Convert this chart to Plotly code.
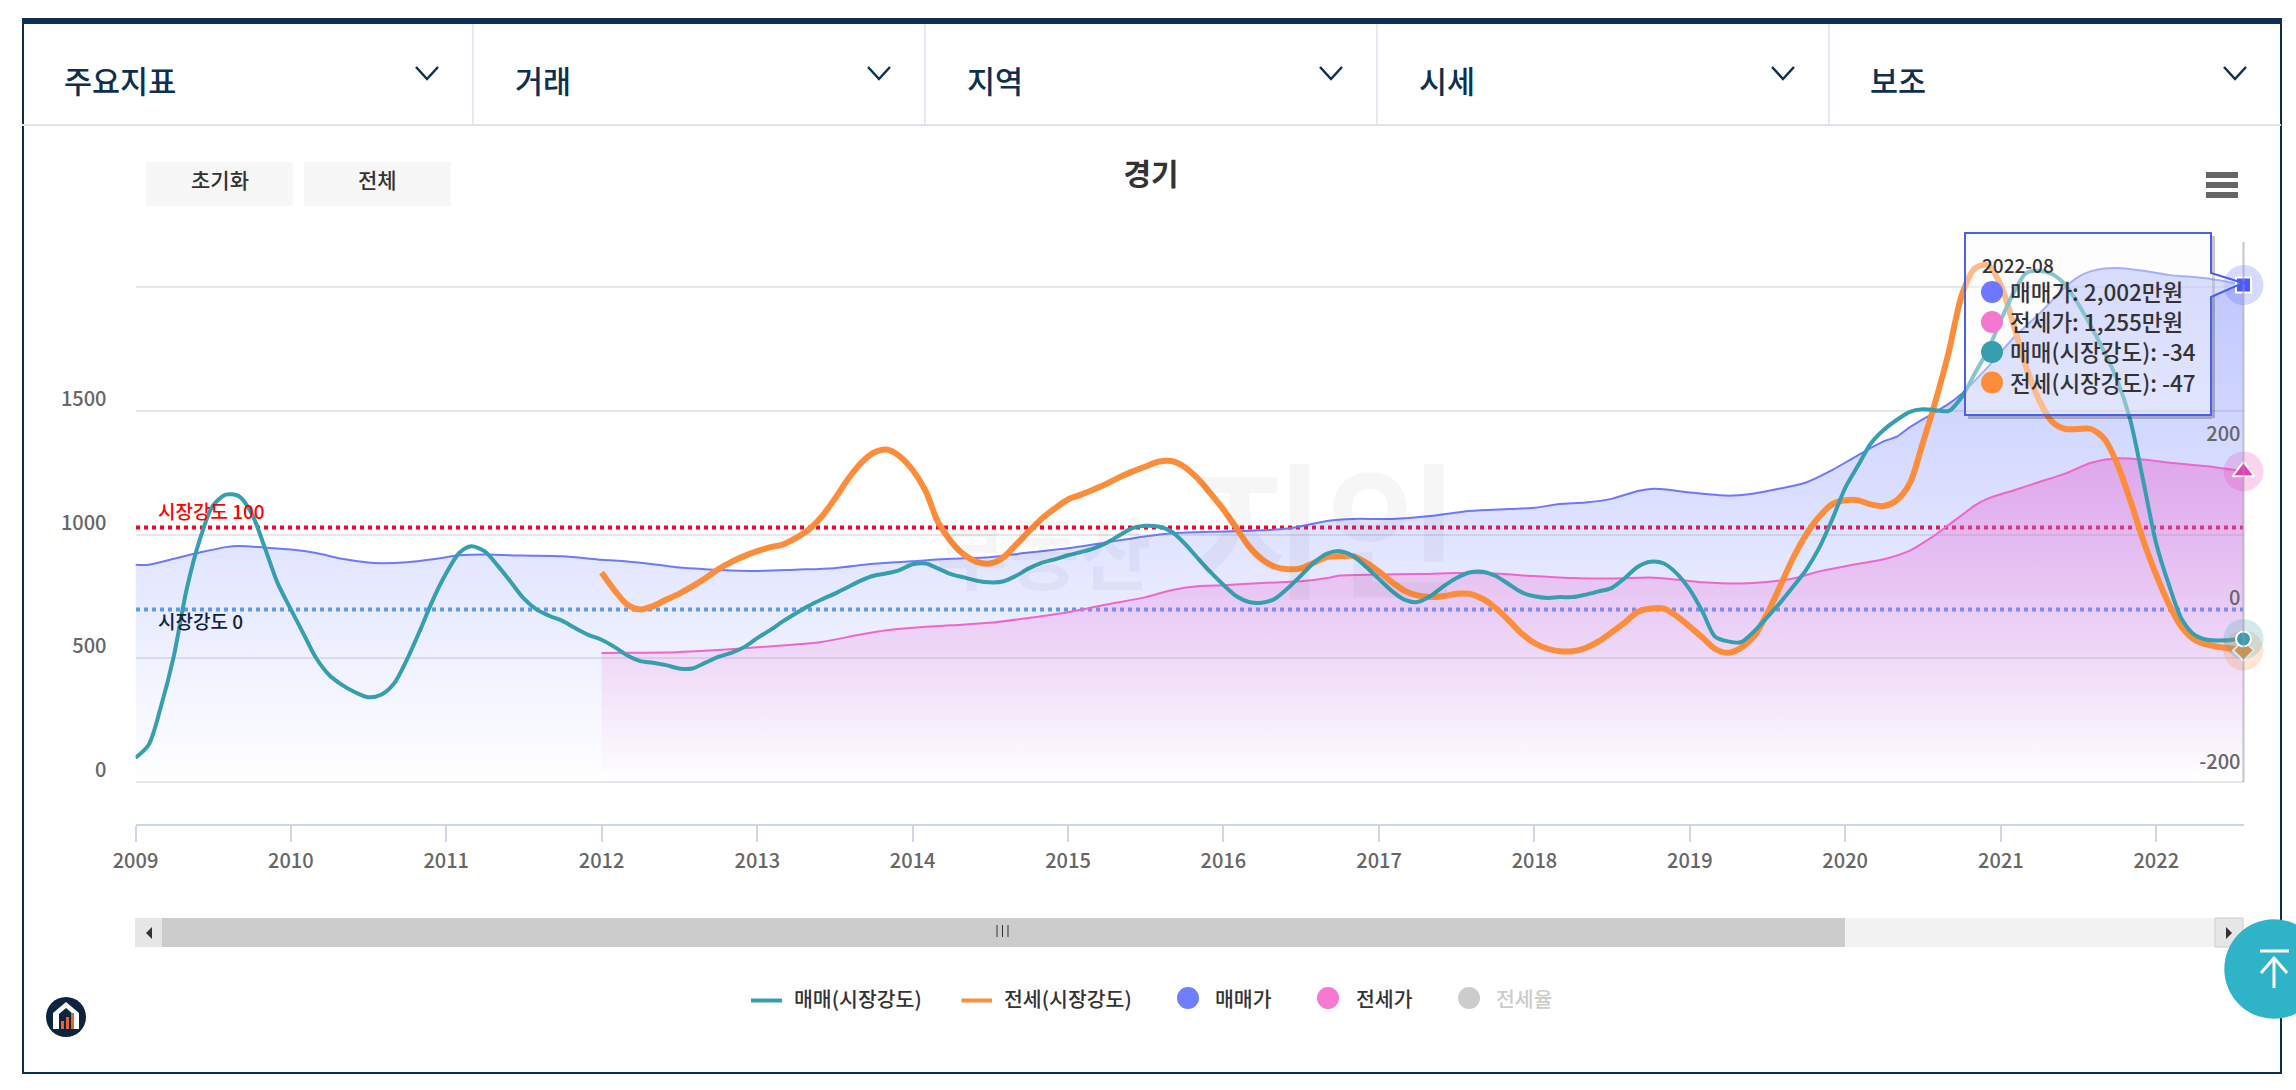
import pandas as pd
import plotly.graph_objects as go

FONT = "Noto Sans CJK KR"
W, H = 2296, 1090

# ---------- data ----------
MONTHS = [d.strftime("%Y-%m-%d") for d in pd.date_range("2009-01-01", "2022-07-01", freq="MS")] + ["2022-07-25"]

teal_values = [-181, -165, -120, -57, 24, 85, 126, 140, 138, 117,
               75, 32, 0, -31, -59, -80, -92, -101, -107, -104,
               -90, -61, -25, 12, 44, 69, 77, 71, 54, 34,
               14, 0, -8, -14, -23, -31, -37, -46, -56, -63,
               -65, -68, -72, -72, -65, -58, -53, -46, -35, -25,
               -15, -5, 4, 12, 19, 27, 35, 41, 44, 48,
               55, 56, 50, 43, 39, 35, 33, 34, 41, 50,
               57, 61, 66, 70, 74, 81, 90, 99, 102, 101,
               95, 81, 63, 46, 30, 16, 9, 8, 13, 26,
               41, 57, 68, 71, 65, 52, 37, 22, 12, 9,
               16, 28, 38, 45, 46, 41, 31, 21, 16, 14,
               15, 15, 18, 22, 26, 38, 52, 58, 56, 44,
               24, -4, -33, -39, -40, -27, -10, 8, 28, 48,
               75, 109, 148, 176, 202, 219, 231, 241, 244, 243,
               242, 259, 288, 316, 353, 387, 410, 413, 409, 396,
               373, 345, 314, 280, 231, 158, 80, 28, -11, -31,
               -37, -38, -37, -34]

orange_values = [45, 23, 6, 0,
                 4, 12, 19, 28, 38, 49, 58, 65, 71, 76,
                 79, 87, 97, 113, 134, 158, 178, 191, 195, 187,
                 170, 144, 107, 83, 67, 58, 56, 63, 79, 95,
                 111, 123, 134, 140, 146, 153, 161, 168, 174, 180,
                 181, 174, 160, 142, 122, 99, 77, 61, 52, 49,
                 50, 57, 64, 65, 65, 57, 46, 33, 23, 17,
                 15, 16, 19, 19, 13, 2, -13, -29, -41, -48,
                 -51, -51, -47, -39, -28, -16, -3, 1, 1, -8,
                 -21, -35, -48, -53, -47, -33, -6, 28, 63, 91,
                 113, 128, 133, 133, 128, 126, 133, 154, 202, 255,
                 315, 383, 416, 420, 395, 345, 296, 255, 229, 220,
                 220, 220, 208, 178, 133, 85, 42, 5, -21, -37,
                 -43, -46, -48, -47]

blue_idx = [0, 1, 3, 5, 7, 8, 10, 12, 14, 16, 18, 19, 21, 23, 25, 27, 30, 33, 36, 38, 40, 42, 44, 46, 48, 51, 54, 57,
            60, 63, 66, 69, 72, 75, 78, 80, 83, 86, 89, 92, 94, 97, 100, 103, 106, 108, 110, 112, 114, 116, 117, 118,
            120, 123, 125, 127, 129, 131, 133, 135, 136, 137, 138, 140, 141, 143, 145, 147, 149, 150, 151, 152, 153,
            155, 157, 159, 161, 163]
blue_values = [878, 878, 902, 927, 949, 954, 947, 939, 925, 902, 887, 884, 888, 900, 916, 919, 915, 912, 898, 891, 880,
               867, 860, 855, 853, 858, 864, 882, 892, 902, 908, 927, 944, 968, 992, 1005, 1011, 1015, 1024, 1055, 1063,
               1063, 1075, 1095, 1103, 1108, 1123, 1129, 1144, 1176, 1184, 1183, 1170, 1157, 1166, 1186, 1210, 1260,
               1321, 1377, 1395, 1434, 1465, 1529, 1569, 1676, 1797, 1892, 1999, 2040, 2064, 2075, 2077, 2066, 2048,
               2040, 2026, 2008]

pink_idx = [36, 38, 41, 42, 45, 48, 51, 53, 56, 58, 60, 63, 66, 69, 72, 75, 78, 80, 82, 84, 87, 90, 92, 93, 96, 99, 102,
            105, 108, 111, 114, 117, 119, 121, 124, 126, 128, 130, 133, 135, 137, 138, 139, 140, 141, 142, 143, 145,
            147, 149, 151, 153, 155, 157, 160, 163]
pink_values = [521, 522, 523, 525, 533, 544, 556, 566, 596, 613, 623, 633, 643, 663, 686, 717, 746, 775, 791, 795, 804,
               811, 824, 834, 838, 840, 844, 842, 832, 824, 822, 826, 818, 807, 802, 808, 822, 851, 882, 900, 935, 965,
               1000, 1040, 1078, 1118, 1145, 1179, 1212, 1246, 1290, 1308, 1303, 1290, 1276, 1255]

left_ticks = [0, 500, 1000, 1500, 2000]
left_labels = ["0", "500", "1000", "1500", ""]
right_ticks = [-200, 0, 200]
right_labels = ["-200", "0", "200"]
year_labels = list(range(2009, 2023))
menu_labels = ["주요지표", "거래", "지역", "시세", "보조"]
tooltip_date = "2022-08"
tooltip_rows = ["매매가: 2,002만원", "전세가: 1,255만원", "매매(시장강도): -34", "전세(시장강도): -47"]

TEAL, ORANGE, BLUE, PINK = "#359eaf", "#fd8d3a", "#6b78ff", "#ee66cc"
NAVY = "#0d3050"

def X(px): return px / W
def Y(py): return 1 - py / H

shapes, notes = [], []

def rect(x0, y0, x1, y1, fill, layer="above", line=None):
    shapes.append(dict(type="rect", xref="paper", yref="paper", x0=X(x0), x1=X(x1), y0=Y(y0), y1=Y(y1),
                       fillcolor=fill, line=line or dict(width=0), layer=layer))

def seg(x0, y0, x1, y1, color, width=1, layer="above"):
    shapes.append(dict(type="line", xref="paper", yref="paper", x0=X(x0), x1=X(x1), y0=Y(y0), y1=Y(y1),
                       line=dict(color=color, width=width), layer=layer))

def circle(cx, cy, r, fill):
    shapes.append(dict(type="circle", xref="paper", yref="paper", x0=X(cx - r), x1=X(cx + r), y0=Y(cy - r), y1=Y(cy + r),
                       fillcolor=fill, line=dict(width=0), layer="above"))

def path(points, fill=None, line=None, close=True):
    s = "M " + " L ".join(f"{X(a):.5f},{Y(b):.5f}" for a, b in points) + (" Z" if close else "")
    shapes.append(dict(type="path", xref="paper", yref="paper", path=s, fillcolor=fill or "rgba(0,0,0,0)",
                       line=line or dict(width=0), layer="above"))

def text(x, y, t, size=20, color="#333333", anchor="left", weight=500):
    f = dict(family=FONT, size=size, color=color, weight=weight)
    notes.append(dict(xref="paper", yref="paper", x=X(x), y=Y(y), text=t, showarrow=False, xanchor=anchor,
                      yanchor="middle", font=f, borderpad=0))

# ---------- page frame ----------
rect(22, 18, 2281, 24, NAVY)
seg(23, 18, 23, 1073, NAVY, 2)
seg(2281, 18, 2281, 1073, NAVY, 2)
seg(22, 1073, 2282, 1073, NAVY, 2)
seg(22, 125, 2281, 125, "#dde1f0", 2)
for sx in [473, 925, 1377, 1829]:
    seg(sx, 24, sx, 124, "#dde3f0", 1.5)
for lx, chev, label in zip([63, 514, 966, 1418, 1869], [427, 879, 1331, 1783, 2235], menu_labels):
    text(lx, 80, label, 30.5, NAVY)
    path([(chev - 11, 67), (chev, 79), (chev + 11, 67)], line=dict(color=NAVY, width=2.5), close=False)

# buttons and menu
rect(146, 162, 293, 206, "#f7f7f7")
rect(304, 162, 451, 206, "#f7f7f7")
text(219.5, 179, "초기화", 21, anchor="center")
text(377.5, 179, "전체", 21, anchor="center")
for hy in [175, 185, 195]:
    seg(2206, hy, 2238, hy, "#666666", 6)

# watermark
text(935, 465, "B I G D A T A", 22, "rgba(0,0,0,0.025)")
text(935, 550, "부동산", 78, "rgba(0,0,0,0.035)", weight=700)
text(1190, 522, "지인", 146, "rgba(0,0,0,0.035)", weight=700)

# plot-line captions
text(157, 510, "시장강도 100", 19, "#ff0000")
text(157, 620, "시장강도 0", 19, "#0d2440")

# crosshair
seg(2243.5, 242, 2243.5, 782, "rgba(150,150,165,0.55)", 2)

# plot lines below the series
shapes.append(dict(type="line", xref="paper", yref="y2", x0=X(136), x1=X(2243), y0=100, y1=100,
                   line=dict(color="#ff0022", width=4, dash="4px,4px"), layer="below"))
shapes.append(dict(type="line", xref="paper", yref="y2", x0=X(136), x1=X(2243), y0=0, y1=0,
                   line=dict(color="#5b9eee", width=4, dash="4px,4px"), layer="below"))

# scrollbar
rect(135, 918, 2243, 947, "#f2f2f2")
rect(135, 918, 1845, 947, "#cccccc")
rect(135, 918, 162, 947, "#e6e6e6")
rect(2215, 918, 2243, 947, "#e6e6e6", line=dict(color="#cccccc", width=1))
path([(152, 927), (146, 933), (152, 939)], fill="#333333")
path([(2226, 927), (2232, 933), (2226, 939)], fill="#333333")
for gx in [997, 1002.5, 1008]:
    seg(gx, 925, gx, 937, "#333333", 1)

# legend
seg(751, 1000.5, 782, 1000.5, TEAL, 4)
text(793, 998, "매매(시장강도)", 20.5)
seg(961.5, 1000.5, 992, 1000.5, ORANGE, 4)
text(1003, 998, "전세(시장강도)", 20.5)
circle(1188, 998, 11, "#6e7eff")
text(1214, 998, "매매가", 20.5)
circle(1328, 998, 11, "#f678d0")
text(1355, 998, "전세가", 20.5)
circle(1469, 998, 11, "#cccccc")
text(1495, 998, "전세율", 20.5, "#cccccc")

# logo
circle(66, 1017, 20, "#0d2440")
path([(66, 1002), (79, 1013), (79, 1029), (53, 1029), (53, 1013)], fill="#ffffff")
path([(66, 1008), (73, 1014), (73, 1029), (59, 1029), (59, 1014)], fill="#0d2440")
rect(61, 1021, 64, 1029, "#e8622c")
rect(66, 1017, 69, 1029, "#e8622c")
rect(71, 1013, 74, 1029, "#e8622c")

# back-to-top button
circle(2274, 969, 49.7, "#2fb3c8")
seg(2260, 951, 2289, 951, "#ffffff", 3)
seg(2274, 958, 2274, 988, "#ffffff", 3)
path([(2261, 973), (2274, 958), (2287, 973)], line=dict(color="#ffffff", width=3), close=False)

# tooltip
rect(2212, 236, 2215, 418, "rgba(0,0,0,0.22)")
rect(1968, 416, 2212, 419, "rgba(0,0,0,0.22)")
tip = [(1965, 233), (2211, 233), (2211, 273), (2243, 283), (2211, 297), (2211, 415), (1965, 415)]
path(tip, fill="rgba(250,250,250,0.42)", line=dict(color="#4b5fe8", width=2))
text(1981, 264, tooltip_date, 19)
for ry, dot, row in zip([292, 322, 352, 382.5], ["#6b78ff", "#f478d0", "#359eaf", "#fd8d3a"], tooltip_rows):
    circle(1992, ry, 11, dot)
    text(2009, ry - 1, row, 22.5)

# ---------- series ----------
fig = go.Figure()
line_s = dict(shape="spline", smoothing=0.8)
fig.add_trace(go.Scatter(x=[MONTHS[i] for i in blue_idx], y=blue_values, mode="lines", name="매매가",
                         line=dict(color=BLUE, width=2, **line_s), fill="tozeroy",
                         fillgradient=dict(type="vertical", start=0, stop=2080,
                                           colorscale=[[0, "rgba(107,125,255,0)"], [1, "rgba(107,125,255,0.44)"]])))
fig.add_trace(go.Scatter(x=[MONTHS[i] for i in pink_idx], y=pink_values, mode="lines", name="전세가",
                         line=dict(color=PINK, width=2, **line_s), fill="tozeroy",
                         fillgradient=dict(type="vertical", start=0, stop=1300,
                                           colorscale=[[0, "rgba(235,96,208,0)"], [1, "rgba(235,96,208,0.42)"]])))
fig.add_trace(go.Scatter(x=MONTHS[36:], y=orange_values, mode="lines", name="전세(시장강도)", yaxis="y2",
                         line=dict(color=ORANGE, width=6, **line_s)))
fig.add_trace(go.Scatter(x=MONTHS, y=teal_values, mode="lines", name="매매(시장강도)", yaxis="y2",
                         line=dict(color=TEAL, width=4, **line_s)))

def end_marker(series_y, axis, color, symbol, size):
    fig.add_trace(go.Scatter(x=[MONTHS[-1]], y=[series_y], yaxis=axis, mode="markers", cliponaxis=False, showlegend=False,
                             marker=dict(size=40, color=color, opacity=0.22)))
    fig.add_trace(go.Scatter(x=[MONTHS[-1]], y=[series_y], yaxis=axis, mode="markers", cliponaxis=False, showlegend=False,
                             marker=dict(size=size, color=color, symbol=symbol, line=dict(color="#ffffff", width=2))))

end_marker(blue_values[-1], "y", "#4a58ff", "square", 15)
end_marker(pink_values[-1], "y", "#e63cb8", "triangle-up", 19)
end_marker(orange_values[-1] - 3, "y2", ORANGE, "diamond", 16)
end_marker(teal_values[-1] - 2, "y2", TEAL, "circle", 15)

tickfont = dict(family=FONT, size=20, color="#666666", weight=500)
fig.update_layout(
    width=W, height=H, margin=dict(l=0, r=0, t=0, b=0, autoexpand=False), paper_bgcolor="#ffffff",
    plot_bgcolor="rgba(0,0,0,0)",
    showlegend=False, hovermode=False, shapes=shapes, annotations=notes,
    title=dict(text="경기", x=1151 / W, xanchor="center", y=Y(174), yanchor="middle",
               font=dict(family=FONT, size=30, color="#333333", weight=700)),
    xaxis=dict(domain=[135.5 / W, 2243.5 / W], type="date", range=["2009-01-01", MONTHS[-1]], automargin=False,
               tickvals=[f"{y}-01-01" for y in year_labels], ticktext=[str(y) for y in year_labels],
               showgrid=False, zeroline=False, showline=True, linecolor="#ccd6eb", linewidth=2,
               ticks="outside", ticklen=16, tickcolor="#ccd6eb", tickwidth=1.5, tickfont=tickfont, ticklabelstandoff=2),
    yaxis=dict(domain=[Y(824), Y(242)], range=[(782 - 824) / 0.2475, (782 - 242) / 0.2475], automargin=False,
               tickvals=left_ticks, ticktext=left_labels, showgrid=True, gridcolor="#e6e6e6", gridwidth=2,
               zeroline=False, showline=False, tickfont=tickfont, ticks="", ticklabelshift=-12, ticklabelstandoff=28),
    yaxis2=dict(domain=[Y(824), Y(242)], overlaying="y", side="right", anchor="x", automargin=False,
                range=[(609.4 - 824) / 0.82, (609.4 - 242) / 0.82], tickvals=right_ticks, ticktext=right_labels,
                showgrid=False, zeroline=False, showline=False, tickfont=tickfont, ticks="",
                ticklabelposition="inside", ticklabelshift=-11),
)

fig.write_html("out.html", config=dict(displayModeBar=False),
               post_script="document.body.style.margin='0';document.body.style.overflow='hidden';")
